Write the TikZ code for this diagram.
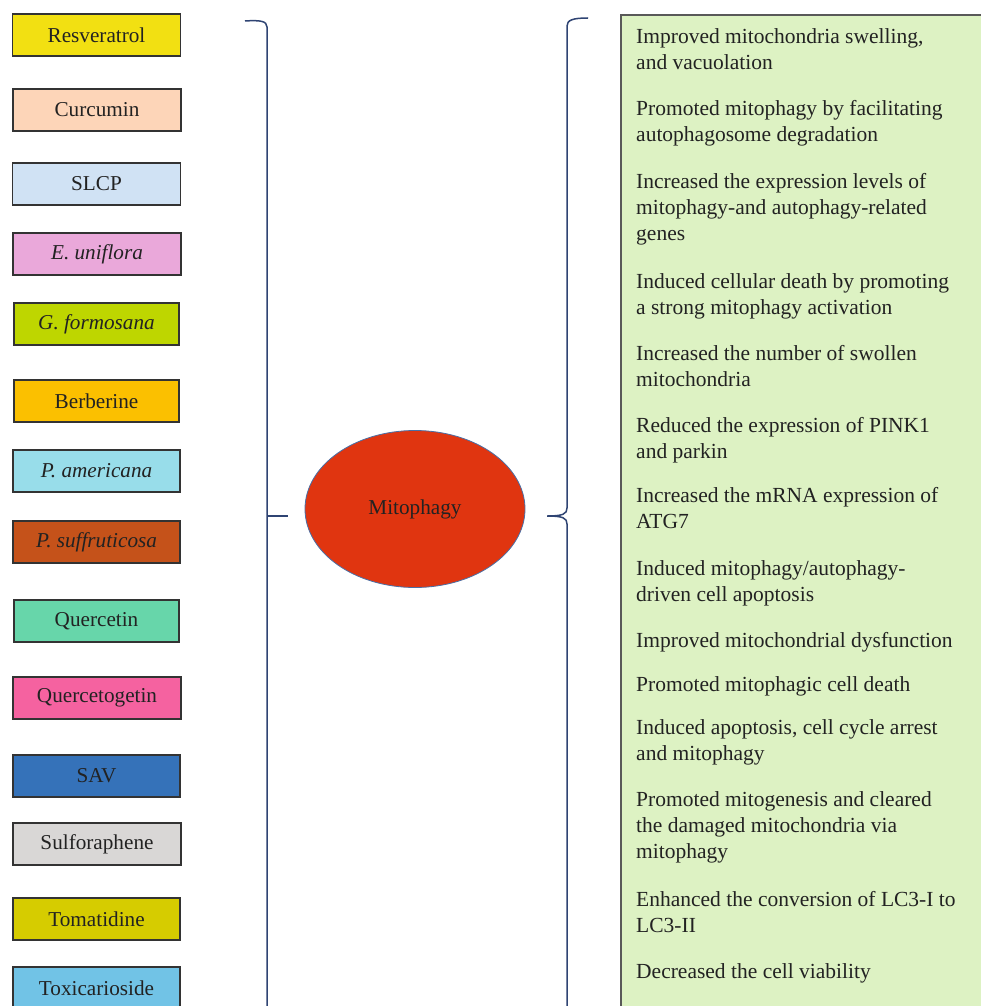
\documentclass[tikz,border=0pt]{standalone}
\usepackage{fontspec}
\setmainfont{Liberation Serif}
\usetikzlibrary{shapes.geometric}
\definecolor{cRes}{HTML}{F2E012}
\definecolor{cCur}{HTML}{FDD5B8}
\definecolor{cSlcp}{HTML}{D0E2F4}
\definecolor{cEun}{HTML}{EAA8DA}
\definecolor{cGfo}{HTML}{BED600}
\definecolor{cBer}{HTML}{FBC000}
\definecolor{cPam}{HTML}{98DDEA}
\definecolor{cPsu}{HTML}{C5521A}
\definecolor{cQue}{HTML}{67D6AA}
\definecolor{cQtg}{HTML}{F562A0}
\definecolor{cSav}{HTML}{3572B9}
\definecolor{cSul}{HTML}{D9D7D6}
\definecolor{cTom}{HTML}{D6CC00}
\definecolor{cTox}{HTML}{71C3E6}
\definecolor{cGreen}{HTML}{DDF2C3}
\definecolor{cEll}{HTML}{E03510}
\definecolor{cEllB}{HTML}{4A6FA5}
\definecolor{cBrace}{HTML}{2F4473}
\definecolor{cTxt}{HTML}{222222}
\tikzset{
  compbox/.style={draw=black!80, line width=1.2pt, minimum width=168pt, minimum height=42pt,
    inner sep=0pt, font=\fontsize{21.2}{25}\selectfont, text=cTxt},
  effect/.style={anchor=base west, align=left, inner sep=0pt,
    font=\fontsize{21.5}{26}\selectfont, text=cTxt},
  bracestyle/.style={draw=cBrace, line width=1.5pt},
}
\begin{document}
\begin{tikzpicture}[x=1pt,y=-1pt]
\useasboundingbox (0,0) rectangle (981,1006);
\clip (0,0) rectangle (981,1006);
% left compound boxes
\node[compbox, fill=cRes] (res) at (96.5,35) {Resveratrol};
\node[compbox, fill=cCur] (cur) at (97,110) {Curcumin};
\node[compbox, fill=cSlcp] (slcp) at (96.5,184) {SLCP};
\node[compbox, fill=cEun] (eun) at (97,254) {\textit{E. uniflora}};
\node[compbox, fill=cGfo, minimum width=165pt] (gfo) at (96.5,324) {\textit{G. formosana}};
\node[compbox, fill=cBer, minimum width=165pt] (ber) at (96.5,401) {Berberine};
\node[compbox, fill=cPam, minimum width=167pt] (pam) at (96.5,471) {\textit{P. americana}};
\node[compbox, fill=cPsu, minimum width=167pt] (psu) at (96.5,542) {\textit{P. suffruticosa}};
\node[compbox, fill=cQue, minimum width=165pt] (que) at (96.5,621) {Quercetin};
\node[compbox, fill=cQtg] (qtg) at (97,698) {Quercetogetin};
\node[compbox, fill=cSav, minimum width=167pt] (sav) at (96.5,776) {SAV};
\node[compbox, fill=cSul] (sul) at (97,844) {Sulforaphene};
\node[compbox, fill=cTom, minimum width=167pt] (tom) at (96.5,919) {Tomatidine};
\node[compbox, fill=cTox, minimum width=167pt] (tox) at (96.5,988) {Toxicarioside};
% central ellipse
\node[ellipse, draw=cEllB, line width=0.8pt, fill=cEll, minimum width=220pt, minimum height=157pt,
  inner sep=0pt, font=\fontsize{21.2}{25}\selectfont, text=cTxt] (mito) at (415,509) {Mitophagy};
% left brace
\coordinate (lbtop) at (245,21);
\coordinate (lbtip) at (288,516);
\draw[bracestyle] (lbtop) .. controls (260,20) and (267,21) .. (267,27) -- (267,1010);
\draw[bracestyle] (267,516) -- (lbtip);
% right brace
\coordinate (rbtop) at (588,18);
\coordinate (rbtip) at (547,516);
\draw[bracestyle] (rbtop) .. controls (573,18) and (567,20) .. (567,26) -- (567,508)
  .. controls (567,514) and (563,516) .. (rbtip)
  .. controls (563,516) and (567,518) .. (567,524) -- (567,1010);
% green effects panel
\draw[fill=cGreen, draw=black!65, line width=1.3pt] (621,15) rectangle (995,1020);
\node[effect] (e1) at (636,70) {Improved mitochondria swelling,\\and vacuolation};
\node[effect] (e2) at (636,142) {Promoted mitophagy by facilitating\\autophagosome degradation};
\node[effect] (e3) at (636,240) {Increased the expression levels of\\mitophagy-and autophagy-related\\genes};
\node[effect] (e4) at (636,314) {Induced cellular death by promoting\\a strong mitophagy activation};
\node[effect] (e5) at (636,386) {Increased the number of swollen\\mitochondria};
\node[effect] (e6) at (636,458) {Reduced the expression of PINK1\\and parkin};
\node[effect] (e7) at (636,528) {Increased the mRNA expression of\\ATG7};
\node[effect] (e8) at (636,601) {Induced mitophagy/autophagy-\\driven cell apoptosis};
\node[effect] (e9) at (636,647) {Improved mitochondrial dysfunction};
\node[effect] (e10) at (636,691) {Promoted mitophagic cell death};
\node[effect] (e11) at (636,760) {Induced apoptosis, cell cycle arrest\\and mitophagy};
\node[effect] (e12) at (636,858) {Promoted mitogenesis and cleared\\the damaged mitochondria via\\mitophagy};
\node[effect] (e13) at (636,932) {Enhanced the conversion of LC3-I to\\LC3-II};
\node[effect] (e14) at (636,978) {Decreased the cell viability};
\end{tikzpicture}
\end{document}
